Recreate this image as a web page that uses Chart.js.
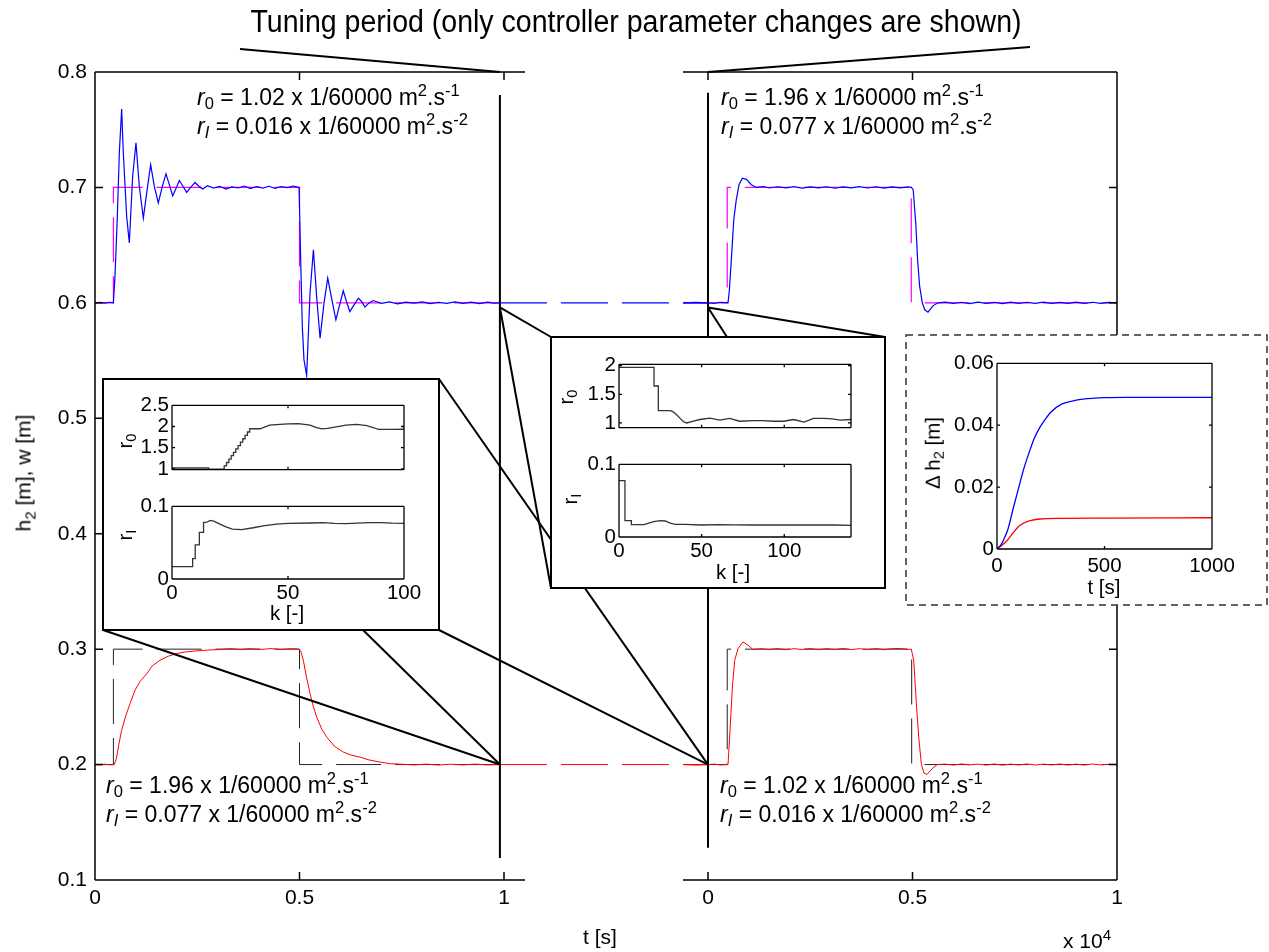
<!DOCTYPE html>
<html lang="en">
<head>
<meta charset="utf-8">
<script src="https://cdn.jsdelivr.net/npm/chart.js@4.4.1/dist/chart.umd.min.js"></script>
<style>
    body { margin: 0; background: #fff; }
    #stage { position: relative; width: 1269px; height: 952px; overflow: hidden; background: #fff;
             font-family: "Liberation Sans", Arial, sans-serif; color: #000; }
    #stage canvas { position: absolute; }
    .lbl { position: absolute; white-space: nowrap; line-height: 1; z-index: 5; }
    .ann { position: absolute; white-space: nowrap; font-size: 23px; line-height: 27px; z-index: 5; }
    .sub { position: relative; font-size: 0.72em; top: 0.3em; }
    .sup { position: relative; font-size: 0.72em; top: -0.5em; }
</style>
</head>
<body>
<div id="stage"></div>

<script>
// ---- main panels: t in units of 10^4 s ----
const mainYTicks = [0.1, 0.2, 0.3, 0.4, 0.5, 0.6, 0.7, 0.8];
const mainXTicks = [0, 0.5, 1];
const tuneEnd = 0.99;   // where the left record stops (start of tuning period)

// left panel: before tuning
const leftH2Upper = [[0,0.6],[0.012,0.6004],[0.024,0.5997],[0.036,0.6005],[0.045,0.6],[0.0489,0.623],[0.0546,0.675],[0.0595,0.73],[0.0652,0.768],[0.0692,0.73],[0.0774,0.675],[0.0839,0.652],[0.092,0.7095],[0.1002,0.7386],[0.1083,0.701],[0.1182,0.6735],[0.1263,0.695],[0.1361,0.7197],[0.145,0.701],[0.1548,0.6865],[0.164,0.7],[0.1736,0.7117],[0.182,0.702],[0.19,0.6928],[0.198,0.699],[0.2062,0.706],[0.215,0.701],[0.2242,0.6957],[0.234,0.7],[0.2445,0.7043],[0.254,0.701],[0.2633,0.6986],[0.275,0.7015],[0.29,0.6995],[0.305,0.701],[0.32,0.6985],[0.335,0.7005],[0.35,0.6995],[0.365,0.7012],[0.38,0.699],[0.395,0.7008],[0.41,0.6995],[0.425,0.701],[0.44,0.6992],[0.455,0.7008],[0.47,0.6998],[0.485,0.7012],[0.499,0.7],[0.5029,0.637],[0.5069,0.5794],[0.511,0.5506],[0.5175,0.537],[0.5257,0.6084],[0.534,0.646],[0.542,0.605],[0.5503,0.5694],[0.56,0.6],[0.569,0.6214],[0.579,0.603],[0.589,0.5853],[0.598,0.598],[0.607,0.6104],[0.615,0.601],[0.623,0.5925],[0.633,0.598],[0.644,0.604],[0.652,0.601],[0.66,0.5963],[0.67,0.6],[0.68,0.602],[0.7,0.5995],[0.72,0.6008],[0.74,0.5992],[0.76,0.6006],[0.78,0.5997],[0.8,0.6009],[0.82,0.5994],[0.84,0.6005],[0.86,0.5996],[0.88,0.6008],[0.9,0.5995],[0.92,0.6006],[0.94,0.5993],[0.96,0.6007],[0.975,0.5998],[0.99,0.6]];
const leftW1 = [[0,0.6],[0.045,0.6],[0.045,0.7],[0.5,0.7],[0.5,0.6],[0.99,0.6]];
const leftH2Lower = [[0,0.2],[0.012,0.1997],[0.024,0.2003],[0.036,0.1998],[0.047,0.2],[0.052,0.205],[0.058,0.217],[0.065,0.2296],[0.075,0.242],[0.0856,0.2528],[0.0978,0.2644],[0.11,0.272],[0.1263,0.2785],[0.14,0.2855],[0.159,0.2904],[0.18,0.294],[0.1997,0.2962],[0.22,0.2975],[0.2486,0.2985],[0.275,0.2992],[0.3056,0.2997],[0.33,0.3004],[0.355,0.2996],[0.38,0.3004],[0.405,0.2997],[0.43,0.3005],[0.455,0.2996],[0.48,0.3004],[0.497,0.3],[0.5029,0.2985],[0.5093,0.2904],[0.517,0.276],[0.5257,0.2615],[0.534,0.25],[0.542,0.2412],[0.554,0.231],[0.5665,0.2239],[0.585,0.216],[0.607,0.2108],[0.628,0.208],[0.648,0.2065],[0.67,0.204],[0.697,0.2022],[0.72,0.2008],[0.75,0.2003],[0.78,0.1997],[0.81,0.2004],[0.84,0.1996],[0.87,0.2003],[0.9,0.1997],[0.93,0.2004],[0.96,0.1997],[0.99,0.2]];
const leftW2 = [[0,0.2],[0.045,0.2],[0.045,0.3],[0.5,0.3],[0.5,0.2],[0.99,0.2]];

// right panel: after tuning
const rightH2Upper = [[-0.06,0.6],[-0.03,0.6004],[0,0.6],[0.015,0.5996],[0.03,0.6005],[0.049,0.6],[0.052,0.61],[0.057,0.637],[0.063,0.672],[0.069,0.689],[0.0758,0.7023],[0.084,0.708],[0.094,0.707],[0.106,0.7023],[0.118,0.7],[0.135,0.7008],[0.15,0.6995],[0.17,0.7006],[0.19,0.6996],[0.21,0.7007],[0.23,0.6994],[0.25,0.7005],[0.27,0.6997],[0.29,0.7006],[0.31,0.6993],[0.33,0.7004],[0.35,0.6996],[0.37,0.7007],[0.39,0.6995],[0.41,0.7006],[0.43,0.6994],[0.45,0.7005],[0.47,0.6996],[0.49,0.7004],[0.497,0.7],[0.5017,0.698],[0.5085,0.6662],[0.5125,0.637],[0.5175,0.6142],[0.524,0.6],[0.53,0.594],[0.5379,0.5919],[0.55,0.5974],[0.562,0.6],[0.58,0.6006],[0.6,0.5995],[0.62,0.6005],[0.64,0.5994],[0.66,0.6006],[0.68,0.5996],[0.7,0.6005],[0.72,0.5994],[0.74,0.6006],[0.76,0.5995],[0.78,0.6005],[0.8,0.5996],[0.82,0.6006],[0.84,0.5995],[0.86,0.6004],[0.88,0.5995],[0.9,0.6006],[0.92,0.5996],[0.94,0.6005],[0.96,0.5995],[0.98,0.6004],[1,0.6]];
const rightW1 = [[-0.06,0.6],[0.047,0.6],[0.047,0.7],[0.497,0.7],[0.497,0.6],[1,0.6]];
const rightH2Lower = [[-0.06,0.2],[-0.03,0.1996],[0,0.2],[0.015,0.2004],[0.03,0.1997],[0.049,0.2],[0.053,0.2239],[0.0596,0.2672],[0.0653,0.2904],[0.0734,0.3005],[0.0856,0.3062],[0.098,0.3033],[0.11,0.2997],[0.13,0.3004],[0.15,0.2996],[0.17,0.3005],[0.19,0.2995],[0.21,0.3004],[0.23,0.2997],[0.25,0.3005],[0.27,0.2995],[0.29,0.3004],[0.31,0.2996],[0.33,0.3005],[0.35,0.2996],[0.37,0.3004],[0.39,0.2996],[0.41,0.3005],[0.43,0.2995],[0.45,0.3004],[0.47,0.3006],[0.49,0.2997],[0.497,0.3],[0.503,0.2904],[0.5095,0.2528],[0.5152,0.2239],[0.5216,0.2006],[0.528,0.1926],[0.5356,0.1915],[0.548,0.1964],[0.56,0.2],[0.58,0.2004],[0.6,0.1996],[0.62,0.2005],[0.64,0.1997],[0.66,0.2004],[0.68,0.1996],[0.7,0.2005],[0.72,0.1995],[0.74,0.2004],[0.76,0.1997],[0.78,0.2005],[0.8,0.1996],[0.82,0.2004],[0.84,0.1997],[0.86,0.2005],[0.88,0.1996],[0.9,0.2004],[0.92,0.1996],[0.94,0.2005],[0.96,0.1997],[0.98,0.2003],[1,0.2]];
const rightW2 = [[-0.06,0.2],[0.047,0.2],[0.047,0.3],[0.498,0.3],[0.498,0.2],[1,0.2]];

// ---- inset A: tuning of the lower loop (k = 0..100) ----
const tuneAr0Steps = [[0,1.02],[15.8,0.995],[22.5,1.07],[23.5,1.15],[24.5,1.23],[25.5,1.31],[26.5,1.39],[27.5,1.47],[28.5,1.55],[29.5,1.63],[30.5,1.71],[31.5,1.79],[32.5,1.87],[33.5,1.946],[34,1.946]];
const tuneAr0 = [[34,1.946],[38,1.946],[42,2.03],[46.6,2.05],[50,2.06],[54.5,2.068],[59.5,2.03],[62,1.98],[64.6,1.945],[67,1.955],[69.6,1.98],[75,2.03],[79.6,2.05],[84,2.02],[87,1.97],[89,1.93],[95,1.93],[100,1.935]];
const tuneArISteps = [[0,0.017],[8.9,0.028],[10,0.047],[11.8,0.064],[13.6,0.078],[15,0.078]];
const tuneArI = [[15,0.078],[16.5,0.0805],[18,0.0795],[20,0.0765],[23,0.072],[26,0.0685],[30,0.068],[35,0.0705],[40,0.0735],[45,0.0755],[50,0.0765],[60,0.077],[65,0.0775],[70,0.0765],[75,0.0762],[80,0.0768],[85,0.0775],[90,0.0775],[95,0.0768],[100,0.0765]];

// ---- inset B: tuning of the upper loop (k = 0..140) ----
const tuneBr0Steps = [[0,1.97],[21.2,1.645],[23.8,1.214],[31.3,1.214]];
const tuneBr0 = [[31.3,1.214],[33,1.19],[35,1.14],[37,1.08],[39,1.02],[41,1.0],[45,1.03],[49,1.06],[55,1.085],[61,1.05],[67,1.08],[73,1.03],[81,1.04],[87,1.04],[93.5,1.03],[99.6,1.03],[105.7,1.06],[112,1.015],[117.8,1.08],[124,1.08],[129,1.07],[134,1.05],[140.4,1.06]];
const tuneBrISteps = [[0,0.0775],[3.6,0.0225],[7.5,0.017],[8,0.017]];
const tuneBrI = [[8,0.017],[15,0.017],[18,0.019],[21,0.021],[25,0.0225],[28,0.022],[31,0.019],[34,0.0175],[40,0.0175],[50,0.0165],[60,0.017],[70,0.0168],[80,0.0165],[90,0.0168],[100,0.0165],[110,0.0168],[120,0.0165],[130,0.0165],[140.4,0.016]];

// ---- inset C: step responses, delta h2 [m] over t [s] ----
const stepBlue = [[0,0],[20,0.0015],[31,0.003],[50,0.0062],[75,0.013],[100,0.0196],[125,0.026],[150,0.0313],[175,0.036],[200,0.0394],[225,0.042],[250,0.0442],[300,0.0468],[350,0.0478],[400,0.0484],[500,0.0489],[600,0.049],[800,0.049],[1000,0.049]];
const stepRed = [[0,0],[25,0.0013],[50,0.003],[75,0.0052],[100,0.0073],[125,0.0084],[150,0.0091],[200,0.0097],[300,0.0099],[500,0.01],[1000,0.0101]];

// inset frames on the page
const boxA = { l: 103, t: 379, r: 439, b: 630 };
const boxB = { l: 551, t: 337, r: 885, b: 588 };
const boxC = { l: 906, t: 335, r: 1267, b: 605 };

const stage = document.getElementById('stage');
Chart.defaults.font.family = '"Liberation Sans", Arial, sans-serif';
Chart.defaults.color = '#000';

// box + inward ticks, matlab style
const framePlugin = {
    id: 'frame',
    afterDatasetsDraw(chart, args, f) {
        if (!f || !f.sides) return;
        const { ctx, chartArea: a } = chart;
        const sx = chart.scales.x, sy = chart.scales.y;
        const s = f.sides, n = f.tick;
        ctx.save();
        ctx.strokeStyle = '#000';
        ctx.lineWidth = f.width;
        ctx.beginPath();
        if (s.includes('t')) { ctx.moveTo(a.left, a.top); ctx.lineTo(a.right, a.top); }
        if (s.includes('b')) { ctx.moveTo(a.left, a.bottom); ctx.lineTo(a.right, a.bottom); }
        if (s.includes('l')) { ctx.moveTo(a.left, a.top); ctx.lineTo(a.left, a.bottom); }
        if (s.includes('r')) { ctx.moveTo(a.right, a.top); ctx.lineTo(a.right, a.bottom); }
        sx.ticks.forEach(t => {
            const p = sx.getPixelForValue(t.value);
            if (s.includes('t')) { ctx.moveTo(p, a.top); ctx.lineTo(p, a.top + n); }
            if (s.includes('b')) { ctx.moveTo(p, a.bottom); ctx.lineTo(p, a.bottom - n); }
        });
        sy.ticks.forEach(t => {
            const p = sy.getPixelForValue(t.value);
            if (s.includes('l')) { ctx.moveTo(a.left, p); ctx.lineTo(a.left + n, p); }
            if (s.includes('r')) { ctx.moveTo(a.right, p); ctx.lineTo(a.right - n, p); }
        });
        ctx.stroke();
        ctx.restore();
    }
};
Chart.register(framePlugin);

function makeCanvas(left, top, w, h, z) {
    const c = document.createElement('canvas');
    c.width = w; c.height = h;
    c.style.cssText = `left:${left}px;top:${top}px;width:${w}px;height:${h}px;z-index:${z}`;
    stage.appendChild(c);
    return c;
}

const pts = arr => arr.map(([x, y]) => ({ x, y }));

function line(data, color, width, dash, extra) {
    return Object.assign({
        data: pts(data), borderColor: color, borderWidth: width, borderDash: dash || [],
        pointRadius: 0, fill: false, tension: 0
    }, extra || {});
}

// plot = page rect of the axes box, m = room around it for labels
function makeChart(plot, m, xr, yr, datasets, o) {
    const w = plot.w + m.L + m.R, h = plot.h + m.T + m.B;
    const c = makeCanvas(plot.l - m.L, plot.t - m.T, w, h, o.z);
    const axis = (range, ticks, show, pad, fmt, fitKey, fitVal) => ({
        type: 'linear', min: range[0], max: range[1],
        afterBuildTicks: s => { s.ticks = ticks.map(v => ({ value: v })); },
        afterFit: s => { s[fitKey] = fitVal; },
        grid: { display: false, drawTicks: false },
        border: { display: false },
        ticks: { display: show, padding: pad, autoSkip: false, maxRotation: 0,
                 font: { size: o.size }, callback: v => fmt(v) }
    });
    const chart = new Chart(c, {
        type: 'line',
        data: { datasets },
        options: {
            responsive: false, animation: false, devicePixelRatio: 1, events: [],
            layout: { autoPadding: false, padding: { top: m.T, right: m.R, left: 0, bottom: 0 } },
            plugins: { legend: { display: false }, tooltip: { enabled: false }, frame: o.frame },
            scales: {
                x: axis(xr, o.xTicks, o.xLabels, o.xPad, o.fmtX || String, 'height', m.B),
                y: axis(yr, o.yTicks, o.yLabels, o.yPad, o.fmtY || String, 'width', m.L)
            }
        }
    });
    chart.pageLeft = plot.l - m.L;
    chart.pageTop = plot.t - m.T;
    return chart;
}

// ---- main panels ----
const fmt1 = v => v.toFixed(1);
const leftChart = makeChart(
    { l: 95, t: 72, w: 430, h: 808 }, { L: 95, R: 15, T: 72, B: 72 },
    [0, 430 / 409], [0.1, 0.8],
    [
        line(leftH2Upper, '#0000ff', 1.2),
        line(leftH2Lower, '#ff0000', 1),
        line(leftW1, '#ff00ff', 1.2, [45, 14]),
        line(leftW2, '#222', 1, [45, 14])
    ],
    { z: 1, size: 21, xTicks: mainXTicks, yTicks: mainYTicks, xLabels: true, yLabels: true,
      xPad: 6, yPad: 8, fmtY: fmt1, frame: { sides: 'tbl', tick: 8, width: 1.5 } }
);
const rightChart = makeChart(
    { l: 683, t: 72, w: 434, h: 808 }, { L: 15, R: 152, T: 72, B: 72 },
    [-25 / 409, 1], [0.1, 0.8],
    [
        line(rightH2Upper, '#0000ff', 1.2),
        line(rightH2Lower, '#ff0000', 1),
        line(rightW1, '#ff00ff', 1.2, [45, 14]),
        line(rightW2, '#222', 1, [45, 14])
    ],
    { z: 1, size: 21, xTicks: mainXTicks, yTicks: mainYTicks, xLabels: true, yLabels: false,
      xPad: 6, yPad: 8, fmtY: fmt1, frame: { sides: 'tbr', tick: 8, width: 1.5 } }
);

// ---- overlay: brackets, tuning-gap lines, zoom connectors, inset boxes ----
(function drawOverlay() {
    const g = makeCanvas(0, 0, 1269, 952, 2).getContext('2d');
    const P = (ch, xv, yv) => [ch.pageLeft + ch.scales.x.getPixelForValue(xv), ch.pageTop + ch.scales.y.getPixelForValue(yv)];
    const seg = (a, b) => { g.beginPath(); g.moveTo(a[0], a[1]); g.lineTo(b[0], b[1]); g.stroke(); };

    g.setLineDash([47, 14]);
    g.lineWidth = 1.2; g.strokeStyle = '#0000ff';
    seg(P(leftChart, tuneEnd, 0.6), P(rightChart, 0, 0.6));
    g.lineWidth = 1; g.strokeStyle = '#ff0000';
    seg(P(leftChart, tuneEnd, 0.2), P(rightChart, 0, 0.2));
    g.setLineDash([]);

    g.strokeStyle = '#000'; g.lineWidth = 2;
    seg([240, 49], P(leftChart, tuneEnd, 0.8));
    seg(P(rightChart, 0, 0.8), [1030, 47]);
    seg(P(leftChart, tuneEnd, 0.78), P(leftChart, tuneEnd, 0.119));
    seg(P(rightChart, 0, 0.782), P(rightChart, 0, 0.128));

    const hubL6 = P(leftChart, tuneEnd, 0.596), hubL2 = P(leftChart, tuneEnd, 0.2);
    const hubR6 = P(rightChart, 0, 0.596), hubR2 = P(rightChart, 0, 0.2);
    seg([boxA.r, boxA.t], hubR2);
    seg([boxA.r, boxA.b], hubR2);
    seg([boxA.l, boxA.b], hubL2);
    seg([363, boxA.b], hubL2);
    seg(hubL6, [boxB.l, boxB.t]);
    seg(hubL6, [boxB.l, boxB.b]);
    seg(hubR6, [boxB.r, boxB.t]);
    seg(hubR6, [727, boxB.t]);

    g.fillStyle = '#fff';
    [boxA, boxB].forEach(b => {
        g.fillRect(b.l, b.t, b.r - b.l, b.b - b.t);
        g.strokeRect(b.l, b.t, b.r - b.l, b.b - b.t);
    });
    g.fillRect(boxC.l, boxC.t, boxC.r - boxC.l, boxC.b - boxC.t);
    g.setLineDash([7, 5]); g.lineWidth = 1.5; g.strokeStyle = '#333';
    g.strokeRect(boxC.l, boxC.t, boxC.r - boxC.l, boxC.b - boxC.t);
})();

// ---- insets ----
const insetFrame = { sides: 'tblr', tick: 3, width: 1.3 };
const gray = '#333';
const held = { stepped: 'before' };   // value held until the next sample
const m1 = { L: 70, R: 30, T: 14, B: 6 }, m2 = { L: 70, R: 30, T: 14, B: 40 };
makeChart({ l: 172, t: 404, w: 232, h: 75 }, m1, [0, 100], [0.98, 2.5],
    [line(tuneAr0Steps, gray, 1.3, null, held), line(tuneAr0, gray, 1.3)],
    { z: 3, size: 20.5, xTicks: [0, 50, 100], yTicks: [1, 1.5, 2, 2.5], xLabels: false, yLabels: true,
      xPad: 2, yPad: 3, frame: insetFrame });
makeChart({ l: 172, t: 505, w: 232, h: 74 }, m2, [0, 100], [0, 0.1],
    [line(tuneArISteps, gray, 1.3, null, held), line(tuneArI, gray, 1.3)],
    { z: 3, size: 20.5, xTicks: [0, 50, 100], yTicks: [0, 0.1], xLabels: true, yLabels: true,
      xPad: 2, yPad: 3, frame: insetFrame });
makeChart({ l: 619, t: 363, w: 232, h: 74 }, m1, [0, 140.4], [0.917, 2.024],
    [line(tuneBr0Steps, gray, 1.3, null, held), line(tuneBr0, gray, 1.3)],
    { z: 3, size: 20.5, xTicks: [0, 50, 100], yTicks: [1, 1.5, 2], xLabels: false, yLabels: true,
      xPad: 2, yPad: 3, frame: insetFrame });
makeChart({ l: 619, t: 463, w: 232, h: 74 }, m2, [0, 140.4], [0, 0.1],
    [line(tuneBrISteps, gray, 1.3, null, held), line(tuneBrI, gray, 1.3)],
    { z: 3, size: 20.5, xTicks: [0, 50, 100], yTicks: [0, 0.1], xLabels: true, yLabels: true,
      xPad: 2, yPad: 3, frame: insetFrame });
makeChart({ l: 997, t: 362, w: 215, h: 187 }, { L: 90, R: 40, T: 14, B: 40 }, [0, 1000], [0, 0.06],
    [line(stepBlue, '#0000ff', 1.3, null, { cubicInterpolationMode: 'monotone' }),
     line(stepRed, '#ff0000', 1.3, null, { cubicInterpolationMode: 'monotone' })],
    { z: 3, size: 20.5, xTicks: [0, 500, 1000], yTicks: [0, 0.02, 0.04, 0.06], xLabels: true, yLabels: true,
      xPad: 5, yPad: 3, frame: insetFrame });

// ---- text ----
function addText(html, x, y, size, rotate) {
    const d = document.createElement('div');
    d.className = 'lbl';
    d.innerHTML = html;
    d.style.fontSize = size + 'px';
    d.style.left = x + 'px';
    d.style.top = y + 'px';
    d.style.transform = 'translate(-50%,-50%)' + (rotate ? ` rotate(${rotate}deg)` : '');
    stage.appendChild(d);
    return d;
}
function addAnn(x, baseline, r0, rI) {
    const d = document.createElement('div');
    d.className = 'ann';
    d.style.left = x + 'px';
    d.style.top = (baseline - 21.5) + 'px';
    d.innerHTML = `<i>r</i><span class="sub">0</span> = ${r0} x 1/60000 m<span class="sup">2</span>.s<span class="sup">-1</span><br>` +
                  `<i>r<span class="sub">I</span></i> = ${rI} x 1/60000 m<span class="sup">2</span>.s<span class="sup">-2</span>`;
    stage.appendChild(d);
}

// narrow title: regular face squeezed to the measured width
const title = addText('Tuning period (only controller parameter changes are shown)', 636, 21, 31);
title.style.transform = `translate(-50%,-50%) scaleX(${771 / title.offsetWidth})`;

addText('h<span class="sub">2</span> [m], w [m]', 23, 473, 21, -90);
addText('t [s]', 600, 936, 21);
addText('x 10<span class="sup">4</span>', 1087, 940, 21);

addAnn(197, 105, '1.02', '0.016');
addAnn(721, 105, '1.96', '0.077');
addAnn(106, 793, '1.96', '0.077');
addAnn(720, 793, '1.02', '0.016');

addText('r<span class="sub">0</span>', 125, 441, 20.5, -90);
addText('r<span class="sub">I</span>', 125, 535, 20.5, -90);
addText('k [-]', 287, 613, 20.5);
addText('r<span class="sub">0</span>', 566, 397, 20.5, -90);
addText('r<span class="sub">I</span>', 570, 499, 20.5, -90);
addText('k [-]', 733, 572, 20.5);
addText('&Delta; h<span class="sub">2</span> [m]', 933, 453, 20.5, -90);
addText('t [s]', 1104, 587, 20.5);
</script>
</body>
</html>
